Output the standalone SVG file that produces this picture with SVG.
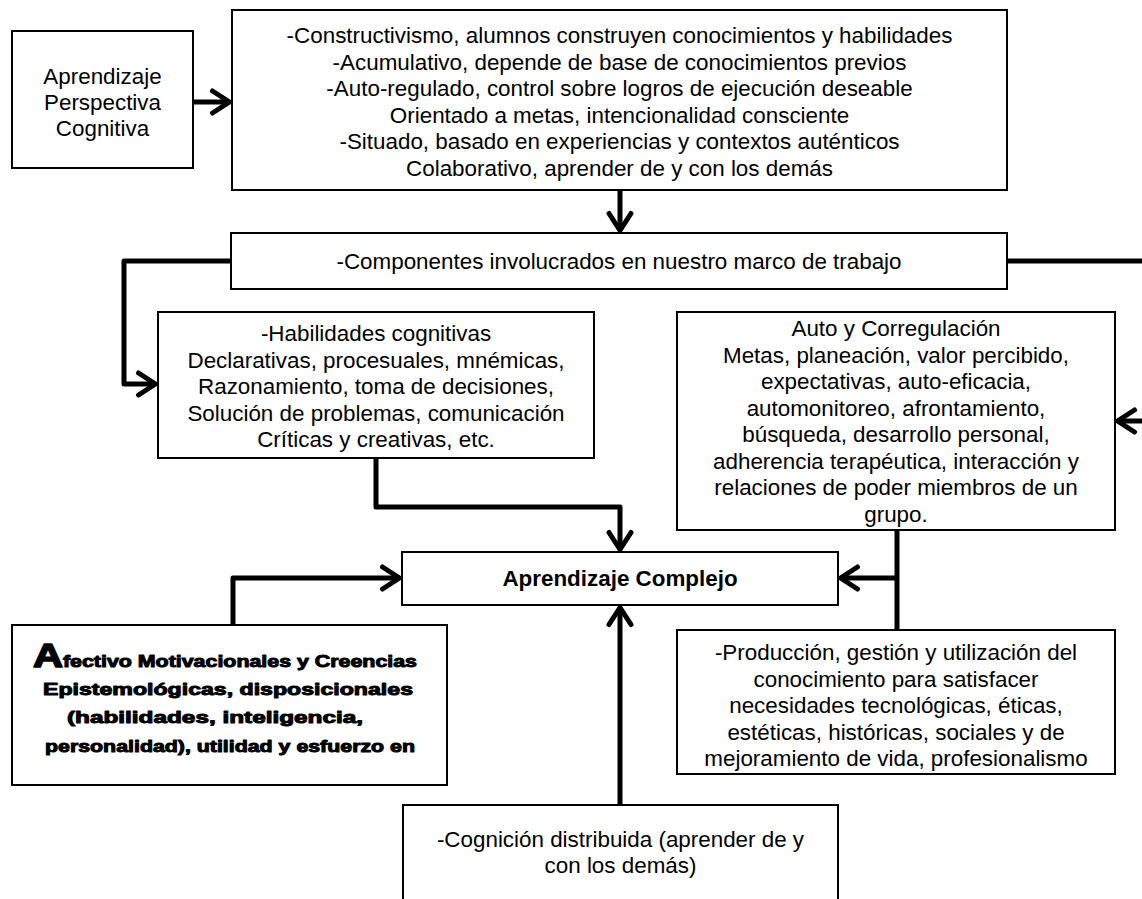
<svg xmlns="http://www.w3.org/2000/svg" width="1142" height="899" viewBox="0 0 1142 899">
<style>
.box{fill:#fff;stroke:#000;stroke-width:2}
.t{font-family:"Liberation Sans",Arial,sans-serif;font-size:22.4px;text-anchor:middle;fill:#000}
.b{font-weight:bold}
.heavy{font-family:"Liberation Sans",Arial,sans-serif;font-weight:bold;font-size:17px;text-anchor:middle;fill:#000;stroke:#000;stroke-width:1;stroke-linejoin:round}
.conn{fill:none;stroke:#000;stroke-width:5;stroke-linejoin:round}
</style>
<defs>
<marker id="ah" viewBox="-25 -16 31 32" refX="0" refY="0" markerWidth="31" markerHeight="32" markerUnits="userSpaceOnUse" orient="auto">
<path d="M-17,-11 L0,0 L-17,11" fill="none" stroke="#000" stroke-width="5" stroke-linecap="round" stroke-linejoin="round"/>
</marker>
</defs>
<rect width="1142" height="899" fill="#fff"/>

<g id="connectors">
<path class="conn" d="M193,102 H229.5" marker-end="url(#ah)"/>
<path class="conn" d="M620,190 V230.5" marker-end="url(#ah)"/>
<path class="conn" d="M231,261 H124 V384 H155.5" marker-end="url(#ah)"/>
<path class="conn" d="M1007,261 H1165 V421 H1117.5" marker-end="url(#ah)"/>
<path class="conn" d="M376,458 V507 H620 V549.5" marker-end="url(#ah)"/>
<path class="conn" d="M897,530 V630"/>
<path class="conn" d="M897,578 H840.5" marker-end="url(#ah)"/>
<path class="conn" d="M233,625 V578 H399.5" marker-end="url(#ah)"/>
<path class="conn" d="M620,805 V607.5" marker-end="url(#ah)"/>
</g>

<g id="n-perspectiva">
<rect class="box" x="12" y="31" width="181" height="137"/>
<text class="t" x="102.5" y="84">Aprendizaje</text>
<text class="t" x="102.5" y="110">Perspectiva</text>
<text class="t" x="102.5" y="136">Cognitiva</text>
</g>

<g id="n-principios">
<rect class="box" x="232" y="10" width="775" height="180"/>
<text class="t" x="619.5" y="43">-Constructivismo, alumnos construyen conocimientos y habilidades</text>
<text class="t" x="619.5" y="69.5">-Acumulativo, depende de base de conocimientos previos</text>
<text class="t" x="619.5" y="96">-Auto-regulado, control sobre logros de ejecución deseable</text>
<text class="t" x="619.5" y="122.5">Orientado a metas, intencionalidad consciente</text>
<text class="t" x="619.5" y="149">-Situado, basado en experiencias y contextos auténticos</text>
<text class="t" x="619.5" y="175.5">Colaborativo, aprender de y con los demás</text>
</g>

<g id="n-componentes">
<rect class="box" x="231" y="233" width="776" height="56"/>
<text class="t" x="619" y="269">-Componentes involucrados en nuestro marco de trabajo</text>
</g>

<g id="n-habilidades">
<rect class="box" x="158" y="312" width="436" height="146"/>
<text class="t" x="376" y="341">-Habilidades cognitivas</text>
<text class="t" x="376" y="367.5">Declarativas, procesuales, mnémicas,</text>
<text class="t" x="376" y="394">Razonamiento, toma de decisiones,</text>
<text class="t" x="376" y="420.5">Solución de problemas, comunicación</text>
<text class="t" x="376" y="447">Críticas y creativas, etc.</text>
</g>

<g id="n-autorregulacion">
<rect class="box" x="677" y="312" width="438" height="218"/>
<text class="t" x="896" y="336">Auto y Corregulación</text>
<text class="t" x="896" y="362.5">Metas, planeación, valor percibido,</text>
<text class="t" x="896" y="389">expectativas, auto-eficacia,</text>
<text class="t" x="896" y="415.5">automonitoreo, afrontamiento,</text>
<text class="t" x="896" y="442">búsqueda, desarrollo personal,</text>
<text class="t" x="896" y="468.5">adherencia terapéutica, interacción y</text>
<text class="t" x="896" y="495">relaciones de poder miembros de un</text>
<text class="t" x="896" y="521.5">grupo.</text>
</g>

<g id="n-complejo">
<rect class="box" x="402" y="552" width="436" height="53"/>
<text class="t b" x="620" y="586">Aprendizaje Complejo</text>
</g>

<g id="n-afectivo">
<rect class="box" x="12" y="625" width="435" height="160" stroke-width="2.5"/>
<text class="heavy" x="225" y="667" textLength="384" lengthAdjust="spacingAndGlyphs"><tspan font-size="33" stroke-width="1.6">A</tspan>fectivo Motivacionales y Creencias</text>
<text class="heavy" x="228" y="694.5" textLength="370" lengthAdjust="spacingAndGlyphs">Epistemológicas, disposicionales</text>
<text class="heavy" x="215" y="723" textLength="296" lengthAdjust="spacingAndGlyphs">(habilidades, inteligencia,</text>
<text class="heavy" x="230" y="751.5" textLength="370" lengthAdjust="spacingAndGlyphs">personalidad), utilidad y esfuerzo en</text>
</g>

<g id="n-produccion">
<rect class="box" x="677" y="630" width="438" height="144"/>
<text class="t" x="896" y="660">-Producción, gestión y utilización del</text>
<text class="t" x="896" y="686.5">conocimiento para satisfacer</text>
<text class="t" x="896" y="713">necesidades tecnológicas, éticas,</text>
<text class="t" x="896" y="739.5">estéticas, históricas, sociales y de</text>
<text class="t" x="896" y="766">mejoramiento de vida, profesionalismo</text>
</g>

<g id="n-cognicion">
<rect class="box" x="403" y="805" width="435" height="120"/>
<text class="t" x="620.5" y="847">-Cognición distribuida (aprender de y</text>
<text class="t" x="620.5" y="873">con los demás)</text>
</g>
</svg>
